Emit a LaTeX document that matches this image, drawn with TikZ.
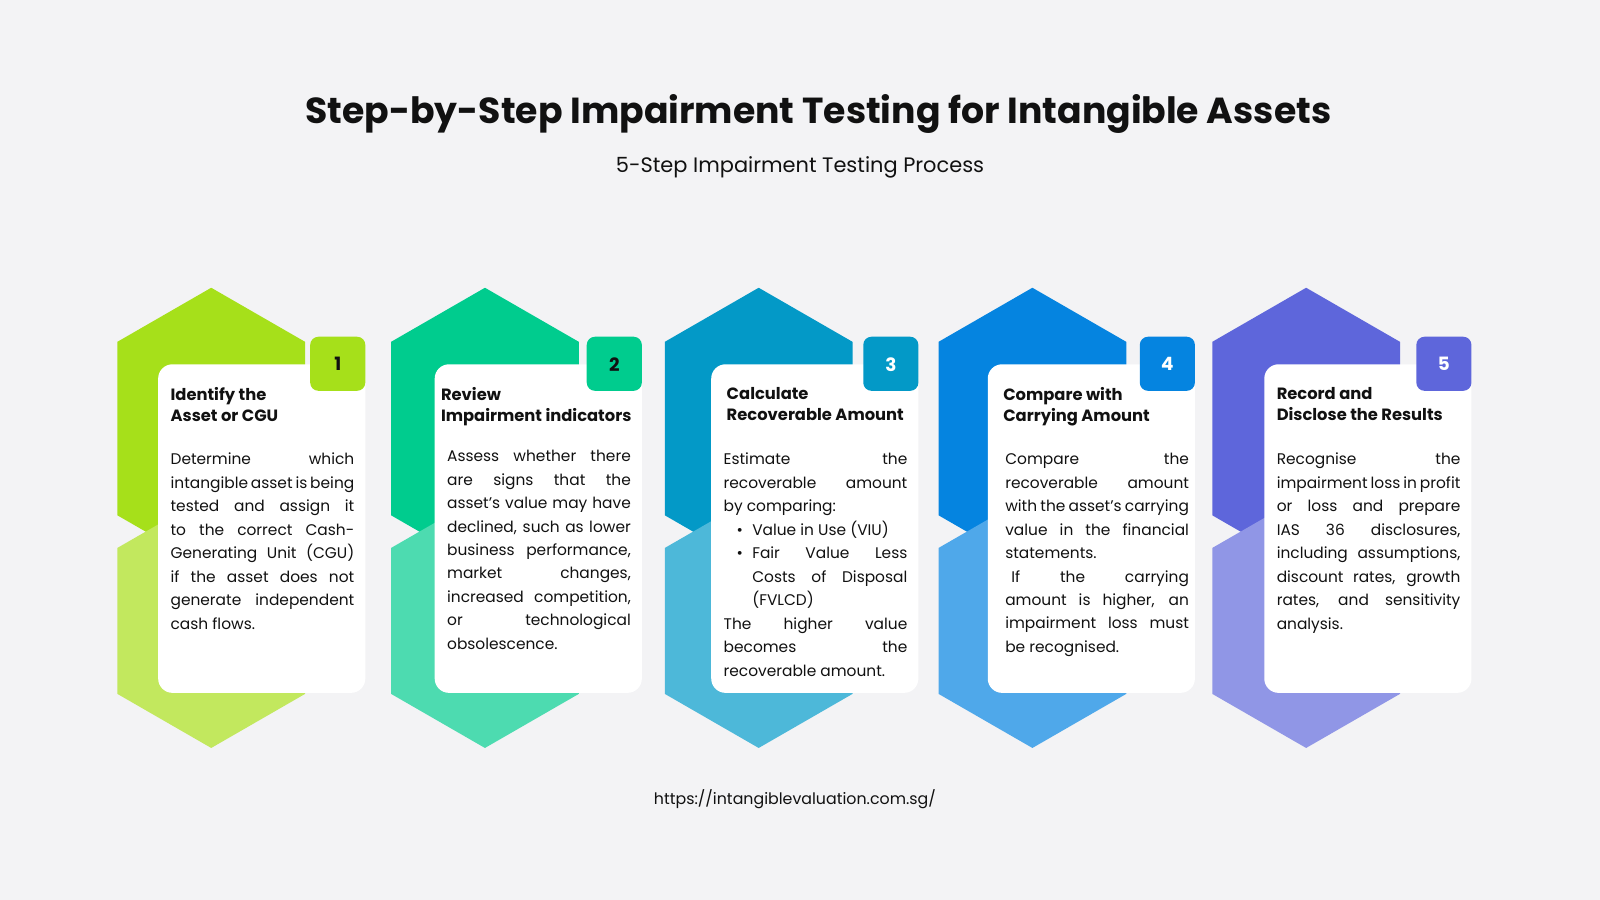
\documentclass[tikz,border=0pt]{standalone}
\usepackage{fontspec}
\setmainfont{Poppins}
\newfontfamily\headfont{Poppins}
\usetikzlibrary{positioning}
\definecolor{bgc}{HTML}{F3F3F5}
\definecolor{dkA}{HTML}{A6E01A}\definecolor{ltA}{HTML}{C2E85E}
\definecolor{dkB}{HTML}{00CC8E}\definecolor{ltB}{HTML}{4DDBB0}
\definecolor{dkC}{HTML}{0399C7}\definecolor{ltC}{HTML}{4DB8D9}
\definecolor{dkD}{HTML}{0584E0}\definecolor{ltD}{HTML}{4FA8EA}
\definecolor{dkE}{HTML}{5E66DB}\definecolor{ltE}{HTML}{9096E6}
\definecolor{ink}{HTML}{111111}
\newcommand\nohyph{\hyphenpenalty=10000\exhyphenpenalty=50\relax}

\begin{document}
\begin{tikzpicture}[x=1pt,y=-1pt,
                    card/.style={fill=white, rounded corners=14pt},
                    badge/.style={rounded corners=8pt},
                    numtext/.style={font=\headfont\bfseries\fontsize{18}{20}\selectfont},
                    headtext/.style={anchor=north west, align=left, text=ink, inner sep=0pt,
                                     font=\headfont\bfseries\fontsize{16}{21.5}\selectfont},
                    bodytext/.style={anchor=north west, text width=180pt, align=justify, text=ink, inner sep=0pt,
                                     font=\fontsize{15.1}{23}\selectfont, execute at begin node=\nohyph},
                   ]

\fill[bgc] (0,0) rectangle (1568,882);
\useasboundingbox (0,0) rectangle (1568,882);

\node[font=\headfont\bfseries\fontsize{35.5}{40}\selectfont, text=ink] (title) at (802,112) {Step-by-Step Impairment Testing for Intangible Assets};
\node[font=\headfont\fontsize{20.5}{24}\selectfont, text=ink] (subtitle) at (784,164) {5-Step Impairment Testing Process};
\node[font=\headfont\fontsize{15.5}{20}\selectfont, text=ink] (url) at (779,783) {https://intangiblevaluation.com.sg/};

% hexagons, cards and badges
\foreach \i/\dk/\lt/\nc in {0/dkA/ltA/ink,1/dkB/ltB/ink,2/dkC/ltC/white,3/dkD/ltD/white,4/dkE/ltE/white}{
  \pgfmathsetmacro{\hx}{115+268.25*\i}
  \pgfmathsetmacro{\cx}{155+271*\i}
  \fill[\dk] (\hx+92,282) -- (\hx+184,335) -- (\hx+184,505) -- (\hx+92,558) -- (\hx,505) -- (\hx,335) -- cycle;
  \fill[\lt] (\hx+92,484) -- (\hx+184,537) -- (\hx+184,680) -- (\hx+92,733) -- (\hx,680) -- (\hx,537) -- cycle;
  \fill[card] (\cx,357) rectangle (\cx+203,679);
  \fill[badge,\dk] (\cx+149,330) rectangle (\cx+203,383);
  \node[numtext, text=\nc] (num\i) at (\cx+176,357) {\the\numexpr\i+1\relax};
}

\node[headtext] (headA) at (167,379) {Identify the\\Asset or CGU};
\node[bodytext] (bodyA) at (167,444) {Determine which intangible asset is being tested and assign it to the correct Cash-Generating Unit (CGU) if the asset does not generate independent cash flows.};

\node[headtext] (headB) at (432,379) {Review\\Impairment indicators};
\node[bodytext] (bodyB) at (438,441) {Assess whether there are signs that the asset’s value may have declined, such as lower business performance, market changes, increased competition, or technological obsolescence.};

\node[headtext] (headC) at (712,379) {Calculate\\Recoverable Amount};
\node[bodytext] (bodyC) at (709,444) {Estimate the recoverable amount by comparing:\par
  \hangindent=28pt\hangafter=0\leavevmode\llap{\textbullet\hspace{9pt}}Value in Use (VIU)\par
  \hangindent=28pt\hangafter=0\leavevmode\llap{\textbullet\hspace{9pt}}Fair Value Less Costs of Disposal (FVLCD)\par
  The higher value becomes the recoverable amount.};

\node[headtext] (headD) at (983,379) {Compare with\\Carrying Amount};
\node[bodytext] (bodyD) at (985,444) {Compare the recoverable amount with the asset’s carrying value in the financial statements.\par
  \hspace*{6pt}If the carrying amount is higher, an impairment loss must be recognised.};

\node[headtext] (headE) at (1251,379) {Record and\\Disclose the Results};
\node[bodytext] (bodyE) at (1251,444) {Recognise the impairment loss in profit or loss and prepare IAS 36 disclosures, including assumptions, discount rates, growth rates, and sensitivity analysis.};

\end{tikzpicture}
\end{document}
